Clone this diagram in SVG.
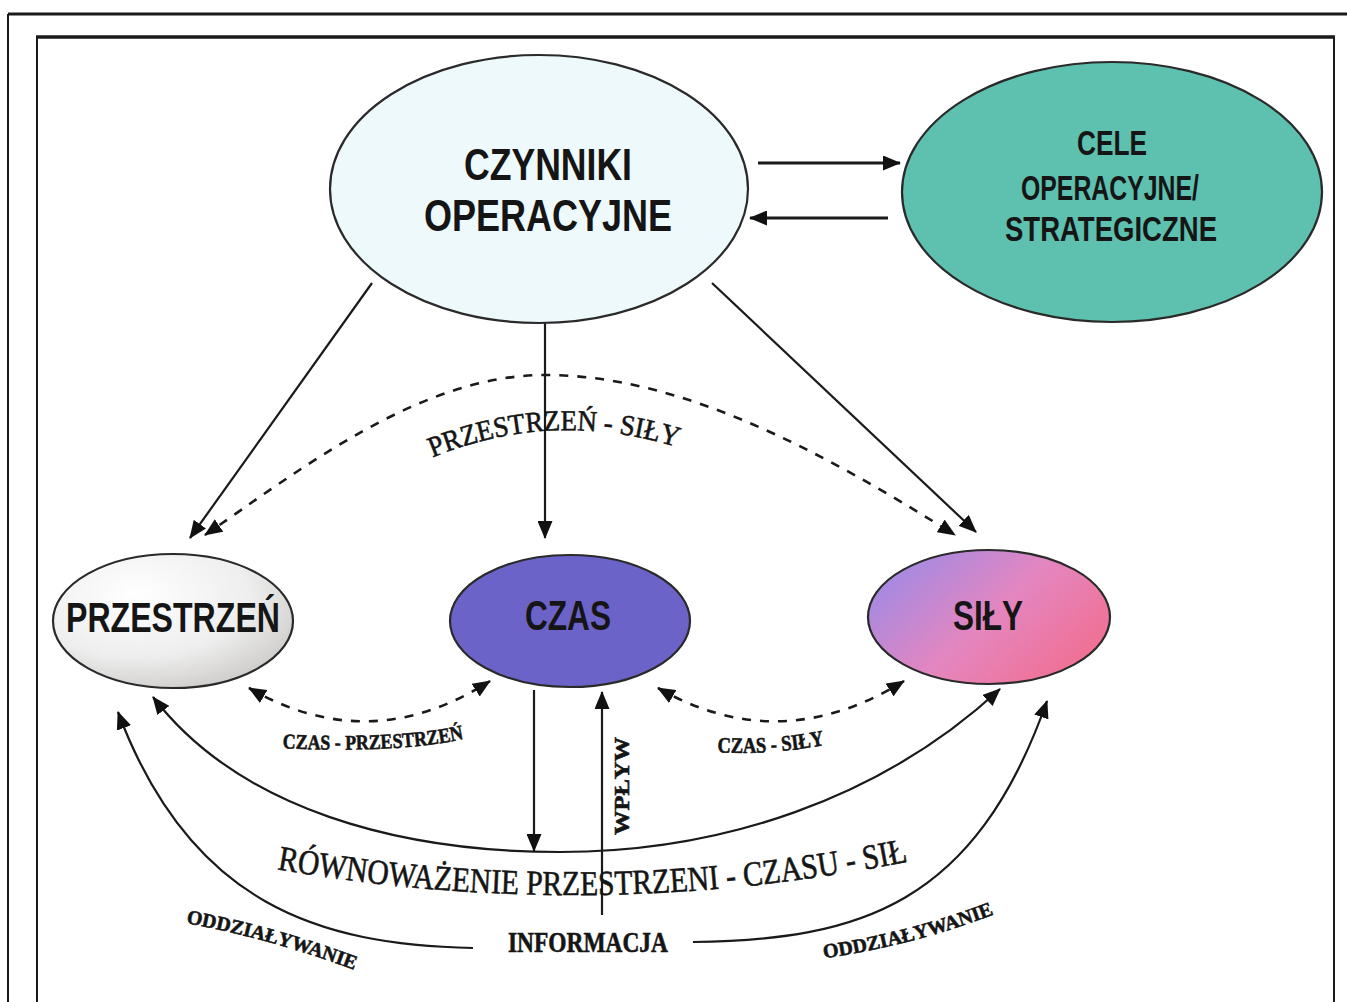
<svg xmlns="http://www.w3.org/2000/svg" width="1347" height="1002" viewBox="0 0 1347 1002">
<defs>
<style>
.node{font-family:"Liberation Sans Narrow","Liberation Sans",Arial,sans-serif;font-weight:bold;fill:#151515;text-anchor:middle}
.lbl{font-family:"Liberation Serif","Times New Roman",serif;fill:#151515;stroke:#151515;stroke-width:0.6}
.ell{stroke:#2a2a2a;stroke-width:2.2}
.conn{fill:none;stroke:#1a1a1a;stroke-width:2.2}
.thick{stroke-width:3}
.dash{fill:none;stroke:#1a1a1a;stroke-width:2.6;stroke-dasharray:9 9}
.frame{stroke:#1a1a1a;fill:none}
</style>
<marker id="ah" viewBox="0 0 18 15" refX="17" refY="7.5" markerWidth="18" markerHeight="15" markerUnits="userSpaceOnUse" orient="auto-start-reverse">
<path d="M0,0 L18,7.5 L0,15 z" fill="#111"/>
</marker>
<radialGradient id="gPrz" cx="0.35" cy="0.3" r="0.85">
<stop offset="0" stop-color="#ffffff"/>
<stop offset="0.55" stop-color="#eeeeee"/>
<stop offset="1" stop-color="#c4c2bf"/>
</radialGradient>
<linearGradient id="gSil" x1="0" y1="0.2" x2="1" y2="0.8">
<stop offset="0" stop-color="#9d8ae6"/>
<stop offset="0.5" stop-color="#e486c0"/>
<stop offset="1" stop-color="#f26d8d"/>
</linearGradient>
<path id="tpPS" d="M418,464 Q 550,403 692,452"/>
<path id="tpCP" d="M278,748 Q 400,754 468,738"/>
<path id="tpCS" d="M714,752 Q 770,756 828,744"/>
<path id="tpRow" d="M270,868 Q 595,926 915,860"/>
<path id="tpOL" d="M180,922 Q 270,938 360,972"/>
<path id="tpOR" d="M818,959 Q 910,947 1000,912"/>
</defs>

<g id="frame">
<line class="frame" x1="8" y1="14" x2="1347" y2="14" stroke-width="3"/>
<line class="frame" x1="8" y1="14" x2="8" y2="1002" stroke-width="2"/>
<line class="frame" x1="36" y1="37" x2="1335" y2="37" stroke-width="3.5"/>
<line class="frame" x1="37" y1="37" x2="37" y2="1002" stroke-width="2"/>
<line class="frame" x1="1334" y1="37" x2="1334" y2="1002" stroke-width="2"/>
</g>

<g id="connectors">
<line class="conn thick" x1="758" y1="163" x2="900" y2="163" marker-end="url(#ah)"/>
<line class="conn thick" x1="888" y1="218" x2="750" y2="218" marker-end="url(#ah)"/>
<line class="conn" x1="372" y1="283" x2="190" y2="538" marker-end="url(#ah)"/>
<line class="conn" x1="545" y1="323" x2="545" y2="538" marker-end="url(#ah)"/>
<line class="conn" x1="712" y1="283" x2="976" y2="532" marker-end="url(#ah)"/>
<path class="dash" d="M205,535 C 300,470 420,375 545,375 C 680,375 820,450 955,535" marker-start="url(#ah)" marker-end="url(#ah)"/>
<path class="dash" d="M249,688 Q 370,758 490,681" marker-start="url(#ah)" marker-end="url(#ah)"/>
<path class="dash" d="M658,688 Q 780,758 904,681" marker-start="url(#ah)" marker-end="url(#ah)"/>
<path class="conn" d="M153,697 C 240,810 400,852 560,852 C 720,852 880,800 1000,689" marker-start="url(#ah)" marker-end="url(#ah)"/>
<line class="conn" x1="534" y1="690" x2="534" y2="851" marker-end="url(#ah)"/>
<line class="conn" x1="602" y1="915" x2="602" y2="692" marker-end="url(#ah)"/>
<path class="conn" d="M473,948 C 320,945 190,905 118,712" marker-end="url(#ah)"/>
<path class="conn" d="M693,942 C 860,940 975,905 1047,701" marker-end="url(#ah)"/>
</g>

<g id="n-czynniki">
<ellipse class="ell" cx="539" cy="189" rx="209" ry="134" fill="#eef9fb"/>
<text class="node" x="548" y="180" font-size="44" textLength="168" lengthAdjust="spacingAndGlyphs">CZYNNIKI</text>
<text class="node" x="548" y="231" font-size="44" textLength="248" lengthAdjust="spacingAndGlyphs">OPERACYJNE</text>
</g>

<g id="n-cele">
<ellipse class="ell" cx="1112" cy="192" rx="210" ry="130" fill="#5ec0ae"/>
<text class="node" x="1112" y="155" font-size="35" textLength="70" lengthAdjust="spacingAndGlyphs">CELE</text>
<text class="node" x="1110" y="200" font-size="35" textLength="178" lengthAdjust="spacingAndGlyphs">OPERACYJNE/</text>
<text class="node" x="1111" y="241" font-size="35" textLength="212" lengthAdjust="spacingAndGlyphs">STRATEGICZNE</text>
</g>

<g id="n-przestrzen">
<ellipse class="ell" cx="173" cy="621" rx="120" ry="67" fill="url(#gPrz)"/>
<text class="node" x="173" y="632" font-size="43" textLength="214" lengthAdjust="spacingAndGlyphs">PRZESTRZEŃ</text>
</g>

<g id="n-czas">
<ellipse class="ell" cx="570" cy="621" rx="120" ry="66" fill="#6b63c8"/>
<text class="node" x="568" y="630" font-size="43" textLength="86" lengthAdjust="spacingAndGlyphs">CZAS</text>
</g>

<g id="n-sily">
<ellipse class="ell" cx="989" cy="617" rx="121" ry="67" fill="url(#gSil)"/>
<text class="node" x="988" y="630" font-size="43" textLength="70" lengthAdjust="spacingAndGlyphs">SIŁY</text>
</g>

<g id="labels">
<text class="lbl" font-size="29"><textPath href="#tpPS" startOffset="50%" text-anchor="middle" textLength="250" lengthAdjust="spacingAndGlyphs">PRZESTRZEŃ - SIŁY</textPath></text>
<text class="lbl" font-size="21" font-weight="bold"><textPath href="#tpCP" startOffset="50%" text-anchor="middle" textLength="182" lengthAdjust="spacingAndGlyphs">CZAS - PRZESTRZEŃ</textPath></text>
<text class="lbl" font-size="22" font-weight="bold"><textPath href="#tpCS" startOffset="50%" text-anchor="middle" textLength="108" lengthAdjust="spacingAndGlyphs">CZAS - SIŁY</textPath></text>
<text class="lbl" font-size="35"><textPath href="#tpRow" startOffset="50%" text-anchor="middle" textLength="635" lengthAdjust="spacingAndGlyphs">RÓWNOWAŻENIE PRZESTRZENI - CZASU - SIŁ</textPath></text>
<text class="lbl" font-size="29" font-weight="bold" x="588" y="952" text-anchor="middle" textLength="160" lengthAdjust="spacingAndGlyphs">INFORMACJA</text>
<text class="lbl" font-size="21" font-weight="bold" transform="translate(629,786) rotate(-90)" text-anchor="middle" textLength="98" lengthAdjust="spacingAndGlyphs">WPŁYW</text>
<text class="lbl" font-size="20" font-weight="bold"><textPath href="#tpOL" startOffset="50%" text-anchor="middle" textLength="175" lengthAdjust="spacingAndGlyphs">ODDZIAŁYWANIE</textPath></text>
<text class="lbl" font-size="20" font-weight="bold"><textPath href="#tpOR" startOffset="50%" text-anchor="middle" textLength="176" lengthAdjust="spacingAndGlyphs">ODDZIAŁYWANIE</textPath></text>
</g>
</svg>
